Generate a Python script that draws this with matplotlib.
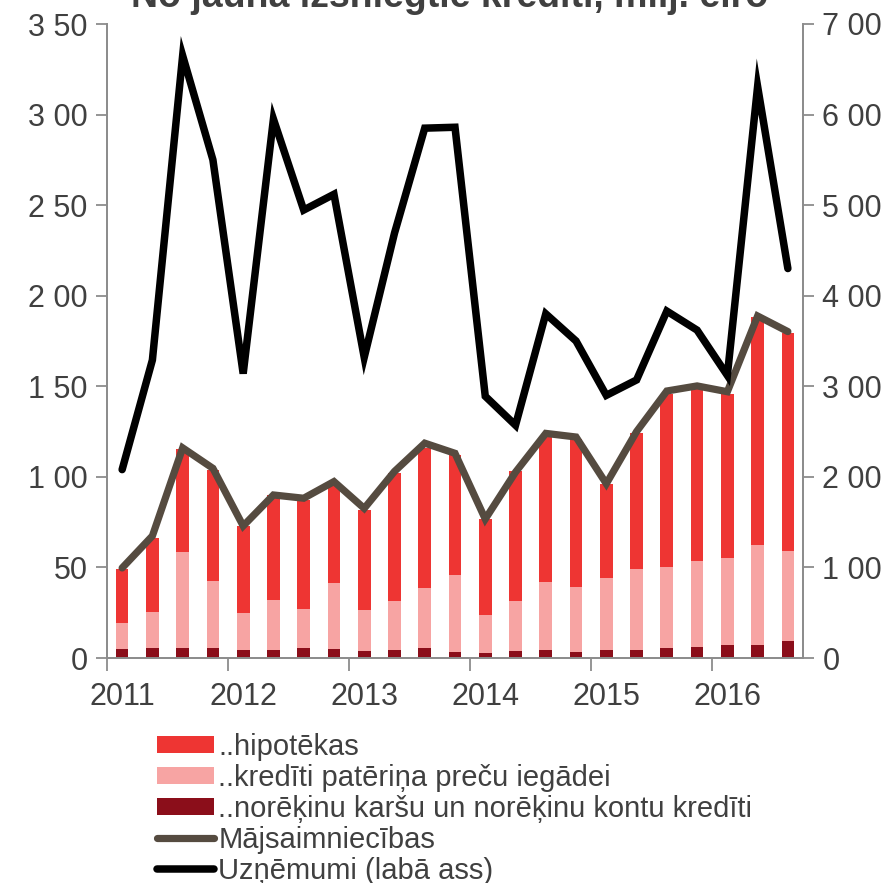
import matplotlib
matplotlib.use("Agg")
import matplotlib.pyplot as plt
import numpy as np

plt.rcParams['font.family'] = ['Liberation Sans', 'DejaVu Sans']

# ---- data ----
quarters = [f"{y}Q{q}" for y in range(2011, 2017) for q in range(1, 5)][:23]
year_labels = ["2011", "2012", "2013", "2014", "2015", "2016"]

mortgage = [29.7, 40.4, 57.0, 61.5, 48.2, 58.0, 60.2, 53.4, 55.2, 70.5, 77.1, 66.0,
            52.6, 71.5, 79.9, 81.5, 51.6, 75.1, 95.8, 96.0, 91.0, 125.6, 120.0]
consumer = [14.2, 19.9, 52.7, 36.8, 20.4, 27.6, 21.3, 36.6, 22.5, 27.1, 33.2, 42.7,
            21.4, 27.6, 37.8, 35.7, 39.8, 44.7, 44.7, 47.4, 47.8, 55.4, 49.7]
cards = [5.1, 5.7, 5.7, 5.7, 4.4, 4.4, 5.7, 5.0, 4.0, 4.4, 5.5, 3.3,
         2.6, 3.9, 4.2, 3.5, 4.6, 4.6, 5.5, 6.1, 7.2, 7.0, 9.6]
households = [49.7, 67.4, 116, 104.7, 72.9, 90, 88.2, 97.4, 82.6, 103, 118.6, 113,
              76.7, 102.6, 124, 122, 96.2, 125, 147.4, 150.2, 147, 188.8, 180.2]
enterprises = [208, 329, 665, 550, 314, 595, 494.6, 512, 332, 469, 585, 586,
               289, 257, 380, 350, 290, 307, 383, 362, 312, 631, 430]

left_ticks = [0, 50, 100, 150, 200, 250, 300, 350]
left_ticklabels = ["0", "50", "1 00", "1 50", "2 00", "2 50", "3 00", "3 50"]
right_ticks = [0, 100, 200, 300, 400, 500, 600, 700]
right_ticklabels = ["0", "1 00", "2 00", "3 00", "4 00", "5 00", "6 00", "7 00"]

labels = ["..hipotēkas", "..kredīti patēriņa preču iegādei",
          "..norēķinu karšu un norēķinu kontu kredīti",
          "Mājsaimniecības", "Uzņēmumi (labā ass)"]

c_mort = "#EE3533"
c_cons = "#F7A4A3"
c_card = "#8B0E1A"
c_hh = "#554B40"
c_ent = "#000000"
c_axis = "#8C8C8C"
c_text = "#404040"

fig = plt.figure(figsize=(8.9, 8.83), dpi=100)
ax = fig.add_axes([107/890, 1-658/883, (803-107)/890, (658-24)/883])

x = np.arange(len(quarters))
cards_a = np.array(cards)
cons_a = np.array(consumer)
mort_a = np.array(mortgage)
w = 0.42
b1 = ax.bar(x, cards_a, w, color=c_card, zorder=2)
b2 = ax.bar(x, cons_a, w, bottom=cards_a, color=c_cons, zorder=2)
b3 = ax.bar(x, mort_a, w, bottom=cards_a + cons_a, color=c_mort, zorder=2)
l1, = ax.plot(x, households, color=c_hh, lw=5.2, solid_capstyle='round',
              solid_joinstyle='miter', zorder=3)

ax.set_xlim(-0.5, len(quarters) - 0.5)
ax.set_ylim(0, 350)
ax.set_yticks(left_ticks)
ax.set_yticklabels(left_ticklabels)

ax2 = ax.twinx()
l2, = ax2.plot(x, enterprises, color=c_ent, lw=5.4, solid_capstyle='round',
               solid_joinstyle='miter', zorder=3)
ax2.set_ylim(0, 700)
ax2.set_yticks(right_ticks)
ax2.set_yticklabels(right_ticklabels)

# x axis: ticks at year boundaries, labels under first quarter of each year
ax.set_xticks(np.arange(-0.5, len(quarters), 4))
ax.set_xticklabels([])
ax.set_xticks(np.arange(0, len(quarters), 4), minor=True)
ax.set_xticklabels(year_labels, minor=True)
ax.tick_params(axis='x', which='major', direction='out', length=9, width=1.3, color=c_axis)
ax.tick_params(axis='x', which='minor', length=0, pad=17, labelsize=22, labelcolor=c_text)
ax.tick_params(axis='y', direction='out', length=8, width=1.3, color=c_axis,
               labelsize=22, labelcolor=c_text, pad=6)
ax2.tick_params(axis='y', direction='out', length=8, width=1.3, color=c_axis,
                labelsize=22, labelcolor=c_text, pad=6)

for a in (ax, ax2):
    a.spines['top'].set_visible(False)
    for s in ('left', 'right', 'bottom'):
        a.spines[s].set_color(c_axis)
        a.spines[s].set_linewidth(1.3)

fig.text(450/890, 1 - 7/883, "No jauna izsniegtie kredīti, milj. eiro",
         ha='center', va='baseline', fontsize=27, fontweight='bold', color=c_text)

leg = fig.legend([b3, b2, b1, l1, l2], labels, loc='upper left',
                 bbox_to_anchor=(157/890, 1 - 733/883), frameon=False,
                 fontsize=21, labelcolor=c_text, borderpad=0, borderaxespad=0,
                 handlelength=1.95, handleheight=0.5, handletextpad=0.15,
                 labelspacing=0.1)

fig.savefig("out.png", dpi=100)
